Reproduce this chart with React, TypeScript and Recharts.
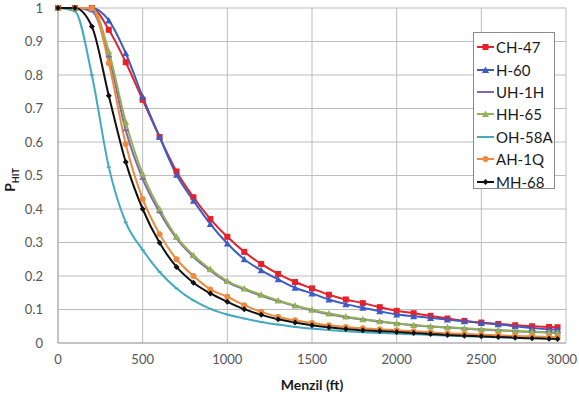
import React from "react";
import { CartesianGrid, Legend, Line, LineChart, XAxis, YAxis } from "recharts";

const distances = [
  0, 100, 200, 300, 400, 500, 600, 700, 800, 900, 1000, 1100, 1200, 1300, 1400, 1500,
  1600, 1700, 1800, 1900, 2000, 2100, 2200, 2300, 2400, 2500, 2600, 2700, 2800, 2900, 2950
];

const ch47 = [1, 1, 1, 0.935, 0.838, 0.726, 0.615, 0.512, 0.435, 0.37, 0.317, 0.272, 0.236, 0.206, 0.182, 0.163, 0.144, 0.13, 0.119, 0.107, 0.096, 0.089, 0.081, 0.073, 0.066, 0.061, 0.057, 0.053, 0.05, 0.048, 0.047];
const h60 = [1, 1, 1, 0.963, 0.865, 0.735, 0.615, 0.502, 0.425, 0.355, 0.297, 0.25, 0.217, 0.19, 0.165, 0.148, 0.13, 0.116, 0.105, 0.095, 0.085, 0.08, 0.075, 0.07, 0.065, 0.06, 0.056, 0.05, 0.045, 0.041, 0.04];
const uh1h = [1, 1, 0.99, 0.855, 0.635, 0.49, 0.39, 0.312, 0.257, 0.216, 0.182, 0.16, 0.141, 0.125, 0.11, 0.097, 0.086, 0.077, 0.07, 0.064, 0.058, 0.053, 0.049, 0.046, 0.043, 0.04, 0.038, 0.035, 0.033, 0.031, 0.03];
const hh65 = [1, 1, 1, 0.87, 0.66, 0.505, 0.4, 0.317, 0.262, 0.22, 0.185, 0.163, 0.144, 0.127, 0.112, 0.099, 0.088, 0.079, 0.071, 0.065, 0.059, 0.054, 0.05, 0.047, 0.044, 0.041, 0.039, 0.036, 0.034, 0.032, 0.031];
const oh58a = [1, 0.99, 0.8, 0.525, 0.36, 0.278, 0.212, 0.163, 0.127, 0.102, 0.085, 0.073, 0.063, 0.055, 0.048, 0.043, 0.039, 0.035, 0.032, 0.03, 0.028, 0.026, 0.024, 0.022, 0.02, 0.019, 0.017, 0.016, 0.015, 0.014, 0.013];
const ah1q = [1, 1, 1, 0.835, 0.594, 0.43, 0.325, 0.25, 0.2, 0.16, 0.138, 0.113, 0.093, 0.078, 0.068, 0.06, 0.053, 0.048, 0.044, 0.041, 0.038, 0.035, 0.032, 0.029, 0.027, 0.025, 0.023, 0.021, 0.02, 0.018, 0.017];
const mh68 = [1, 1, 0.945, 0.738, 0.54, 0.4, 0.299, 0.227, 0.18, 0.148, 0.123, 0.101, 0.084, 0.071, 0.061, 0.053, 0.047, 0.042, 0.038, 0.036, 0.033, 0.03, 0.027, 0.024, 0.022, 0.02, 0.018, 0.016, 0.014, 0.013, 0.012];

const xTicks = [0, 500, 1000, 1500, 2000, 2500, 3000];
const yTicks = [0, 0.1, 0.2, 0.3, 0.4, 0.5, 0.6, 0.7, 0.8, 0.9, 1];

type Shape = "square" | "triangle" | "dash" | "circle" | "diamond" | "tick";

const series: { key: string; name: string; values: number[]; color: string; shape: Shape }[] = [
  { key: "ch47", name: "CH-47", values: ch47, color: "#e8202a", shape: "square" },
  { key: "h60", name: "H-60", values: h60, color: "#3b5cc4", shape: "triangle" },
  { key: "uh1h", name: "UH-1H", values: uh1h, color: "#7f68ad", shape: "dash" },
  { key: "hh65", name: "HH-65", values: hh65, color: "#93b255", shape: "triangle" },
  { key: "oh58a", name: "OH-58A", values: oh58a, color: "#43a9c0", shape: "tick" },
  { key: "ah1q", name: "AH-1Q", values: ah1q, color: "#ef8a3c", shape: "circle" },
  { key: "mh68", name: "MH-68", values: mh68, color: "#111111", shape: "diamond" }
];

const data = distances.map((d, i) => {
  const row: Record<string, number> = { d };
  series.forEach((s) => (row[s.key] = s.values[i]));
  return row;
});

const FONT = "Lato, 'Open Sans', sans-serif";

function Marker({ cx, cy, shape, color, size = 3 }: { cx: number; cy: number; shape: Shape; color: string; size?: number }) {
  if (cx == null || cy == null) return null;
  const s = size;
  switch (shape) {
    case "square":
      return <rect x={cx - s} y={cy - s} width={2 * s} height={2 * s} fill={color} />;
    case "triangle":
      return <path d={`M${cx},${cy - s - 0.5} L${cx + s + 0.5},${cy + s} L${cx - s - 0.5},${cy + s} Z`} fill={color} />;
    case "circle":
      return <circle cx={cx} cy={cy} r={s} fill={color} />;
    case "diamond":
      return <path d={`M${cx},${cy - s} L${cx + s},${cy} L${cx},${cy + s} L${cx - s},${cy} Z`} fill={color} />;
    case "dash":
      return <line x1={cx - s} x2={cx + s} y1={cy} y2={cy} stroke={color} strokeWidth={2} />;
    default:
      return <line x1={cx - 2} x2={cx + 2} y1={cy} y2={cy} stroke={color} strokeWidth={1.5} />;
  }
}

// last x label would run off the right edge, so pull it in
function XTick({ x, y, payload }: any) {
  const last = payload.value === 3000;
  return (
    <text
      x={last ? 577 : x}
      y={y}
      dy="0.71em"
      textAnchor={last ? "end" : "middle"}
      fill="#555"
      fontSize={13}
      fontFamily={FONT}
    >
      {payload.value}
    </text>
  );
}

function LegendBox() {
  return (
    <div
      style={{
        width: 82,
        height: 157,
        border: "1px solid #8a8a8a",
        background: "#fff",
        boxSizing: "border-box",
        padding: "3px 0 0 2px",
        fontFamily: FONT,
        fontSize: 15,
        color: "#1a1a1a"
      }}
    >
      {series.map((s) => (
        <div key={s.key} style={{ display: "flex", alignItems: "center", height: 22.4 }}>
          <svg width={19} height={12} style={{ marginRight: 1 }}>
            <line x1={1} x2={18} y1={6} y2={6} stroke={s.color} strokeWidth={2} />
            <Marker cx={9.5} cy={6} shape={s.shape} color={s.color} />
          </svg>
          <span>{s.name}</span>
        </div>
      ))}
    </div>
  );
}

function YLabel() {
  return (
    <text transform="translate(15,180) rotate(-90)" textAnchor="middle" fontFamily={FONT} fontWeight="bold" fill="#1a1a1a">
      <tspan fontSize={14}>P</tspan>
      <tspan fontSize={9} dy={4}>HIT</tspan>
    </text>
  );
}

export default function App() {
  return (
    <div style={{ position: "absolute", left: 0, top: 0, width: 579, height: 397, background: "#fff" }}>
      <LineChart width={579} height={397} data={data} margin={{ top: 8, right: 13, left: 0, bottom: 24 }}>
        <CartesianGrid stroke="#bdbdbd" strokeWidth={1} />
        <XAxis
          dataKey="d"
          type="number"
          domain={[0, 3000]}
          ticks={xTicks}
          height={30}
          tickLine={false}
          tickSize={0}
          tickMargin={12}
          axisLine={{ stroke: "#a8a8a8" }}
          tick={<XTick />}
          label={{ value: "Menzil (ft)", position: "insideBottom", offset: -17, fill: "#1a1a1a", fontSize: 14, fontWeight: "bold", fontFamily: FONT }}
        />
        <YAxis
          type="number"
          domain={[0, 1]}
          ticks={yTicks}
          width={58}
          tickLine={false}
          tickSize={0}
          tickMargin={15}
          axisLine={{ stroke: "#a8a8a8" }}
          tickFormatter={(v: number) => String(Math.round(v * 10) / 10)}
          tick={{ fill: "#555", fontSize: 13, fontFamily: FONT }}
          label={<YLabel />}
        />
        <Legend
          content={() => <LegendBox />}
          layout="horizontal"
          verticalAlign="middle"
          align="center"
          wrapperStyle={{ left: 473, top: 32, width: 82 }}
        />
        {series.map((s) => (
          <Line
            key={s.key}
            dataKey={s.key}
            name={s.name}
            type="monotone"
            stroke={s.color}
            strokeWidth={2}
            isAnimationActive={false}
            activeDot={false}
            dot={(p: any) => <Marker key={`${s.key}-${p.index}`} cx={p.cx} cy={p.cy} shape={s.shape} color={s.color} />}
          />
        ))}
      </LineChart>
    </div>
  );
}
